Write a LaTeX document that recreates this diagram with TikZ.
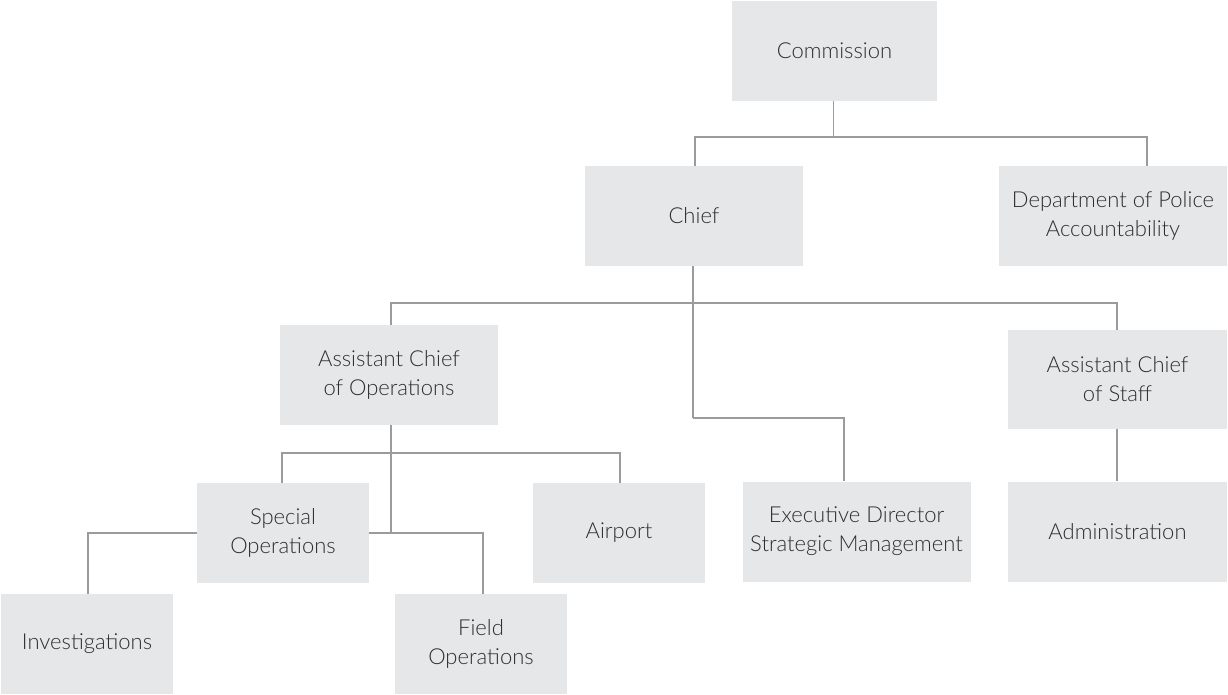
\documentclass[tikz,border=0pt]{standalone}
\usepackage{fontspec}
\setmainfont{Lato}[UprightFont=* Light]
\definecolor{boxfill}{HTML}{E6E7E8}
\definecolor{linecol}{HTML}{9B9B9B}
\definecolor{txt}{HTML}{2E2E2E}
\tikzset{
  orgbox/.style={fill=boxfill, draw=none, align=center, text=txt,
    font=\fontsize{22}{29}\selectfont, inner sep=0pt},
  conn/.style={draw=linecol, line width=1.6pt}
}
\begin{document}
\begin{tikzpicture}[x=1pt,y=-1pt]
\useasboundingbox (0,0) rectangle (1228,694);
\node[orgbox, minimum width=205pt, minimum height=100pt] (comm) at (834.5,51) {Commission};
\node[orgbox, minimum width=218pt, minimum height=100pt] (chief) at (694,216) {Chief};
\node[orgbox, minimum width=228pt, minimum height=100pt] (dpa) at (1113,216) {Department of Police\\Accountability};
\node[orgbox, minimum width=218pt, minimum height=100pt] (aco) at (389,375) {Assistant Chief\\of Operations};
\node[orgbox, minimum width=219pt, minimum height=99pt] (acs) at (1117.5,379.5) {Assistant Chief\\of Staff};
\node[orgbox, minimum width=172pt, minimum height=100pt] (spo) at (283,533) {Special\\Operations};
\node[orgbox, minimum width=172pt, minimum height=100pt] (air) at (619,533) {Airport};
\node[orgbox, minimum width=228pt, minimum height=100pt] (exd) at (856.5,531.5) {Executive Director\\Strategic Management};
\node[orgbox, minimum width=219pt, minimum height=100pt] (adm) at (1117.5,531.5) {Administration};
\node[orgbox, minimum width=172pt, minimum height=100pt] (inv) at (87,644) {Investigations};
\node[orgbox, minimum width=172pt, minimum height=100pt] (fop) at (481,644) {Field\\Operations};

% Commission
\coordinate (j1) at ([xshift=-1pt,yshift=-36pt]comm.south);
\draw[conn] ([xshift=-1pt]comm.south) -- (j1);
\draw[conn] (j1) -| ([xshift=1pt]chief.north);
\draw[conn] (j1) -| ([xshift=34pt]dpa.north);
% Chief
\coordinate (j2) at ([xshift=-1pt,yshift=-37pt]chief.south);
\coordinate (j3) at ([xshift=-1pt,yshift=-152pt]chief.south);
\draw[conn] ([xshift=-1pt]chief.south) -- (j3);
\draw[conn] (j2) -| ([xshift=2pt]aco.north);
\draw[conn] (j2) -| ([xshift=-0.5pt]acs.north);
\draw[conn] (j3) -| ([xshift=-12.5pt]exd.north);
% Assistant Chief of Operations
\coordinate (j4) at ([xshift=2pt,yshift=-28pt]aco.south);
\draw[conn] ([xshift=2pt]aco.south) -- ([xshift=2pt,yshift=-107.5pt]aco.south);
\draw[conn] (j4) -| ([xshift=-1pt]spo.north);
\draw[conn] (j4) -| ([xshift=1pt]air.north);
\draw[conn] (spo.east) -| ([xshift=2pt]fop.north);
\draw[conn] (spo.west) -| ([xshift=1pt]inv.north);
% Assistant Chief of Staff
\draw[conn] ([xshift=-0.5pt]acs.south) -- ([xshift=-0.5pt]adm.north);
\end{tikzpicture}
\end{document}
